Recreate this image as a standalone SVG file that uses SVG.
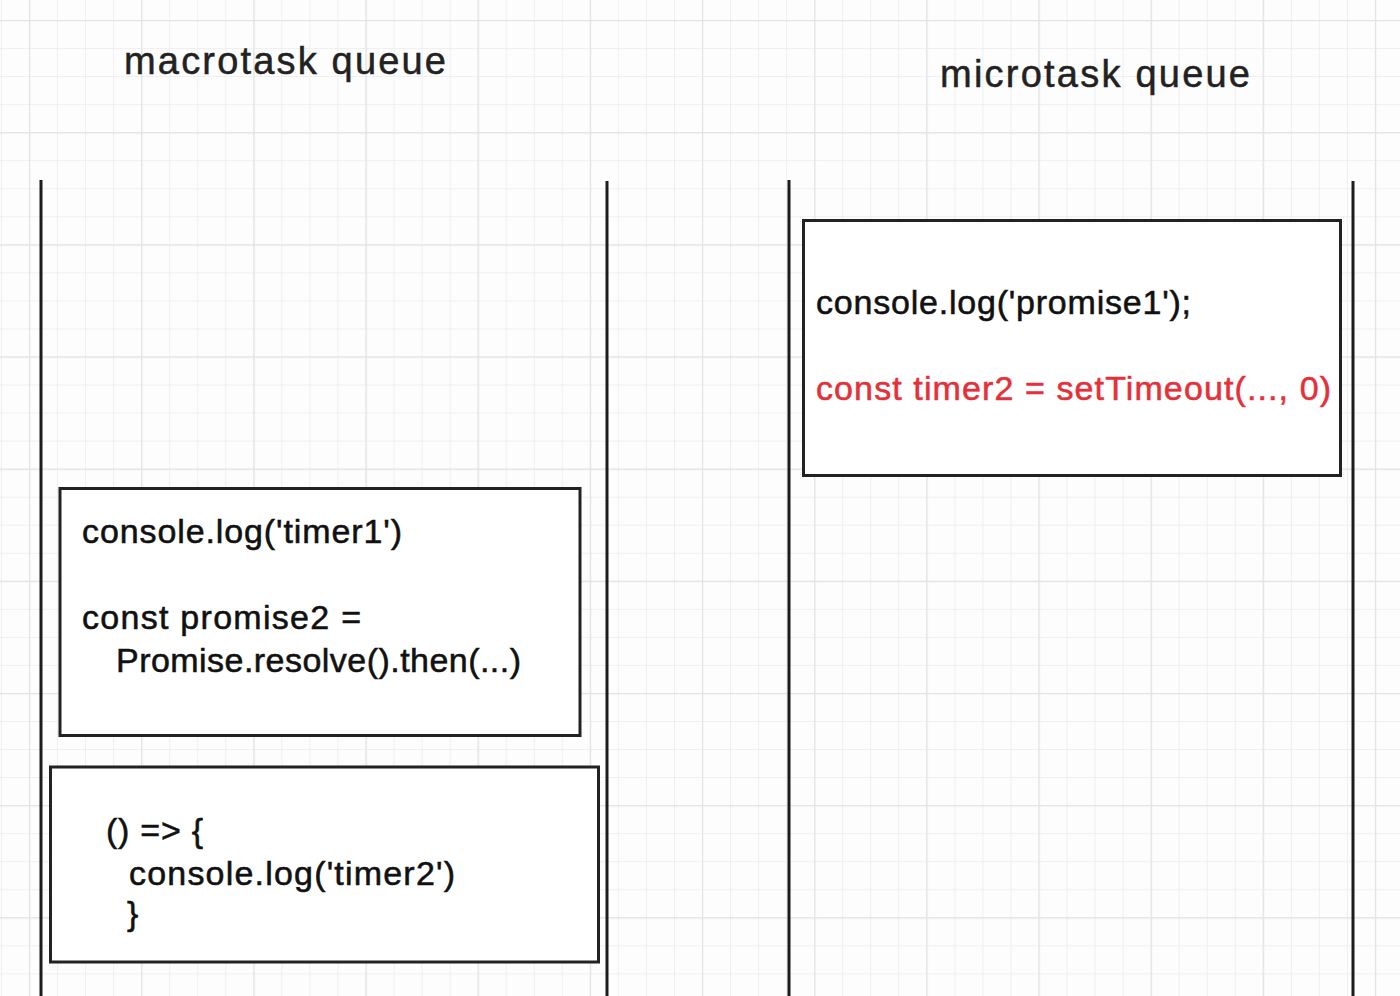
<svg xmlns="http://www.w3.org/2000/svg" width="1400" height="996" viewBox="0 0 1400 996">
<defs>
<pattern id="minor" x="1" y="20" width="28.04" height="28.04" patternUnits="userSpaceOnUse">
<path d="M0 0H28.04M0 0V28.04" fill="none" stroke="#ebebeb" stroke-width="1.5"/>
</pattern>
<pattern id="major" x="29" y="20" width="112.16" height="112.16" patternUnits="userSpaceOnUse">
<path d="M0 0H112.16M0 0V112.16" fill="none" stroke="#e3e3e3" stroke-width="2.5"/>
</pattern>
</defs>
<style>
.lane{stroke:#1c1c1c;stroke-width:3;fill:none}
.box{fill:#ffffff;stroke:#222222;stroke-width:3}
.title{font-family:"Liberation Sans",Arial,sans-serif;font-size:38px;fill:#222222;stroke:#222222;stroke-width:0.5}
.code{font-family:"Liberation Sans",Arial,sans-serif;font-size:34px;fill:#111111;stroke:#111111;stroke-width:0.55}
.red{fill:#e5303a;stroke:#e5303a}
</style>
<rect width="1400" height="996" fill="#fdfdfd"/>
<rect width="1400" height="996" fill="url(#minor)"/>
<rect width="1400" height="996" fill="url(#major)"/>

<g id="titles">
<text class="title" x="124" y="74" textLength="322" lengthAdjust="spacing">macrotask queue</text>
<text class="title" x="940" y="87" textLength="310" lengthAdjust="spacing">microtask queue</text>
</g>

<g id="connectors">
<line class="lane" x1="41" y1="180" x2="41" y2="996"/>
<line class="lane" x1="607" y1="181" x2="607" y2="996"/>
<line class="lane" x1="789" y1="180" x2="789" y2="996"/>
<line class="lane" x1="1353" y1="181" x2="1353" y2="996"/>
</g>

<g id="micro-box">
<rect class="box" x="803.5" y="220.5" width="537" height="255"/>
<text class="code" x="816" y="314" textLength="375" lengthAdjust="spacing">console.log('promise1');</text>
<text class="code red" x="816" y="400" textLength="515" lengthAdjust="spacing">const timer2 = setTimeout(..., 0)</text>
</g>

<g id="macro-box-1">
<rect class="box" x="60" y="488.5" width="520" height="247"/>
<text class="code" x="82" y="543" textLength="320" lengthAdjust="spacing">console.log('timer1')</text>
<text class="code" x="82" y="629" textLength="279" lengthAdjust="spacing">const promise2 =</text>
<text class="code" x="116" y="672" textLength="405" lengthAdjust="spacing">Promise.resolve().then(...)</text>
</g>

<g id="macro-box-2">
<rect class="box" x="50.5" y="767" width="548" height="195"/>
<text class="code" x="106" y="842" textLength="97" lengthAdjust="spacing">() =&gt; {</text>
<text class="code" x="129" y="885" textLength="326" lengthAdjust="spacing">console.log('timer2')</text>
<text class="code" x="127" y="925">}</text>
</g>
</svg>
